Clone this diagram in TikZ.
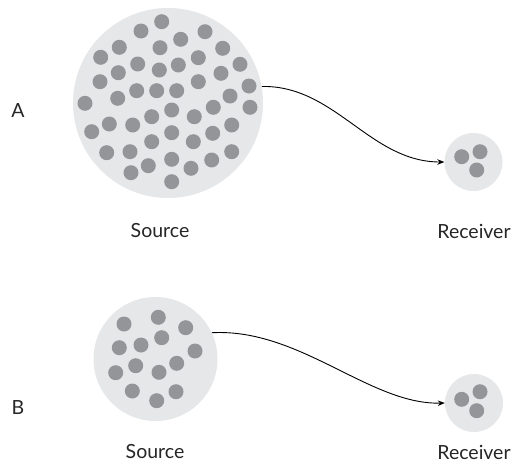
\documentclass[tikz,border=0pt]{standalone}
\usepackage{fontspec}
\setmainfont{Lato}
\usetikzlibrary{arrows.meta}
\definecolor{disc}{RGB}{230,231,232}
\definecolor{dot}{RGB}{147,149,152}
\begin{document}
\begin{tikzpicture}[x=1pt,y=-1pt,
  discnode/.style={circle,fill=disc,inner sep=0pt,minimum size=#1},
  dotnode/.style={circle,fill=dot,inner sep=0pt,minimum size=15pt},
  lbl/.style={font=\fontsize{19.5}{22}\selectfont,text=black!85,inner sep=1pt},
  conn/.style={line width=0.9pt,-{Stealth[length=7pt,width=5.5pt]}}]
\useasboundingbox (0,0) rectangle (513,463);
% A
\node[discnode=190pt] (srcA) at (168,103) {};
\foreach \x/\y [count=\i] in {161.7/21.7,141/31,205/31.7,180.7/39.3,119.3/47.3,160/47.7,222.7/48.3,100.7/57.3,198.3/57.7,137.7/64,178.3/65,240/64.3,118.3/72.7,159.3/70,221/73.3,100/81.7,198.3/81.7,249/86,136.7/90.7,156.7/90.7,176.7/90.7,230/96,117.7/98.3,85/103.3,213.3/107.3,250/107.3,171.7/110,151.7/116.7,194.3/116.7,109.3/124,132.7/125,231.7/125,91.7/131.7,171.7/132.7,212.7/133.3,151.7/141.7,193.3/141.7,106.7/152.7,130/151.7,231.7/151.7,171.7/159.3,148.3/165.7,211.7/160,191/168.3,131/172.7,171.7/181.7}
  \node[dotnode] (a\i) at (\x,\y) {};
\node[discnode=58pt] (rcvA) at (473.5,162) {};
\node[dotnode] (ra1) at (461.7,156.7) {};
\node[dotnode] (ra2) at (480,151.7) {};
\node[dotnode] (ra3) at (476.7,170) {};
\draw[conn] (srcA.10) .. controls (335,85) and (370,162) .. (rcvA.west);
\node[lbl] (labA) at (18,111) {A};
\node[lbl] (sA) at (160,231) {Source};
\node[lbl] (rA) at (474,231) {Receiver};
% B
\node[discnode=124pt] (srcB) at (155.5,359) {};
\foreach \x/\y [count=\i] in {124/324,158.3/317.3,185.7/327.7,161.7/337.7,119.3/347.7,141/345,195/351,135.7/365.7,176.7/363.3,115.7/372.7,159/372.3,132.3/391,176/391.7,156.7/400.7}
  \node[dotnode] (b\i) at (\x,\y) {};
\node[discnode=58pt] (rcvB) at (474,403) {};
\node[dotnode] (rb1) at (461.7,399.3) {};
\node[dotnode] (rb2) at (480,391.7) {};
\node[dotnode] (rb3) at (476.7,410.7) {};
\draw[conn] (srcB.25) .. controls (300,328) and (370,405) .. (rcvB.west);
\node[lbl] (labB) at (18,408) {B};
\node[lbl] (sB) at (155,452) {Source};
\node[lbl] (rB) at (474,452) {Receiver};
\end{tikzpicture}
\end{document}
